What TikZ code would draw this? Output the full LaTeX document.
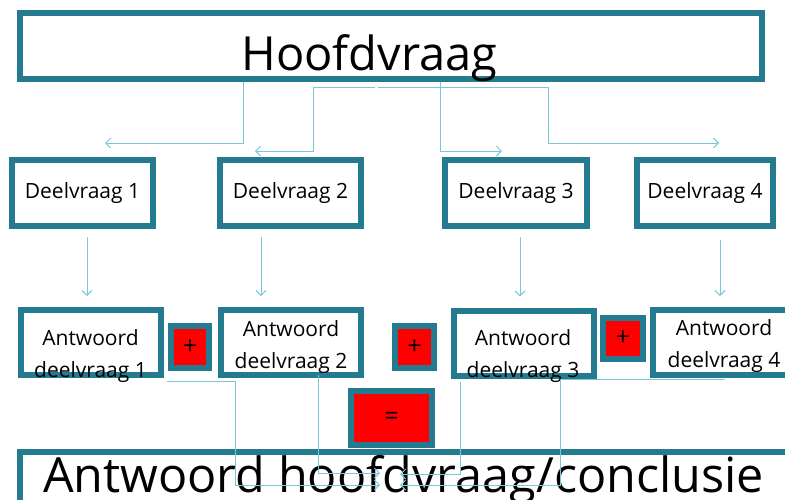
\documentclass[tikz,border=0pt]{standalone}
\usepackage{fontspec}
\setmainfont{Open Sans}
\usetikzlibrary{arrows.meta}
\definecolor{rimteal}{RGB}{36,122,142}
\definecolor{linkblue}{RGB}{120,200,218}
\definecolor{signred}{RGB}{255,0,0}
\begin{document}
\begin{tikzpicture}[
  x=1pt, y=-1pt,
  every node/.style={font=\fontsize{21}{32}\selectfont, inner sep=0pt},
  box/.style={
    draw=rimteal,
    line width=6pt,
    minimum width=141pt,
    minimum height=66pt
  },
  ansbox/.style={box, minimum width=140pt, minimum height=65pt},
  anstext/.style={align=center, anchor=base},
  signbox/.style={
    draw=rimteal,
    line width=6pt,
    fill=signred,
    minimum width=38pt,
    minimum height=42pt,
    font=\fontsize{25}{28}\selectfont
  },
  link/.style={-{Straight Barb[length=5pt,width=10pt]}, linkblue, line width=0.9pt}
]
\clip (0,0) rectangle (785,499);
\node[box, minimum width=742pt] (hoofd) at (391,46) {};
\node[anchor=base, font=\fontsize{47}{56}\selectfont] (hoofdtext) at (369.5,70) {Hoofdvraag};
\node[box] (dv1) at (82.5,193) {Deelvraag 1};
\node[box] (dv2) at (290.5,193) {Deelvraag 2};
\node[box, minimum width=142pt] (dv3) at (516,193) {Deelvraag 3};
\node[box, minimum width=136pt] (dv4) at (705,193) {Deelvraag 4};
\node[ansbox] (ad1) at (91,342.5) {};
\node[ansbox] (ad2) at (291,342.5) {};
\node[ansbox] (ad3) at (524,343) {};
\node[ansbox] (ad4) at (723,342.5) {};
\node[anstext] (ad1text) at (90.5,377) {Antwoord\\deelvraag 1};
\node[anstext] (ad2text) at (291,368) {Antwoord\\deelvraag 2};
\node[anstext] (ad3text) at (523,377) {Antwoord\\deelvraag 3};
\node[anstext] (ad4text) at (724,367) {Antwoord\\deelvraag 4};
\node[signbox] (plus1) at (190,347) {+};
\node[signbox, minimum width=39pt] (plus2) at (414.5,347) {+};
\node[signbox, minimum width=40pt, minimum height=41pt] (plus3) at (623,338.5) {+};
\node[signbox, minimum width=81pt, minimum height=54pt] (equal) at (391.5,418) {=};
\node[box, minimum width=770pt, minimum height=79pt] (concl) at (405,491) {};
\node[anchor=base, font=\fontsize{48.5}{56}\selectfont] (concltext) at (403.5,492) {Antwoord hoofdvraag/conclusie};
\coordinate (t1) at (105,143);
\coordinate (t2) at (255,151);
\coordinate (t3) at (502,151);
\coordinate (t4) at (719,143);
\coordinate (bl1) at (380,485);
\coordinate (bl2) at (380,473);
\coordinate (br1) at (400,474);
\coordinate (br2) at (400,485);
\draw[link] ([xshift=-148pt]hoofd.south) |- (t1);
\draw[link] ([xshift=-16pt,yshift=-5pt]hoofd.south) -| ([xshift=58pt]t2) -- (t2);
\draw[link] ([xshift=49pt]hoofd.south) |- (t3);
\draw[link] ([xshift=-13pt,yshift=-5pt]hoofd.south) -| ([xshift=-171pt]t4) -- (t4);
\draw[link, shorten <=8pt, shorten >=11pt] ([xshift=4.5pt]dv1.south) -- ([xshift=4.5pt]dv1.south |- ad1.north);
\draw[link, shorten <=8pt, shorten >=11pt] ([xshift=-29.5pt]dv2.south) -- ([xshift=-29.5pt]dv2.south |- ad2.north);
\draw[link, shorten <=8pt, shorten >=11pt] ([xshift=4pt]dv3.south) -- ([xshift=4pt]dv3.south |- ad3.north);
\draw[link, shorten <=11pt, shorten >=11pt] ([xshift=15pt]dv4.south) -- ([xshift=15pt]dv4.south |- ad4.north);
\draw[link] ([xshift=3pt,yshift=-3pt]ad1.south east) -| ([xshift=-145pt]bl1) -- (bl1);
\draw[link] ([xshift=27pt,yshift=3pt]ad2.south) |- (bl2);
\draw[link] ([xshift=-64pt,yshift=-3pt]ad3.south) |- (br1);
\draw[link] ([xshift=2pt,yshift=-1pt]ad4.south) -| ([xshift=160pt]br2) -- (br2);
\end{tikzpicture}
\end{document}
